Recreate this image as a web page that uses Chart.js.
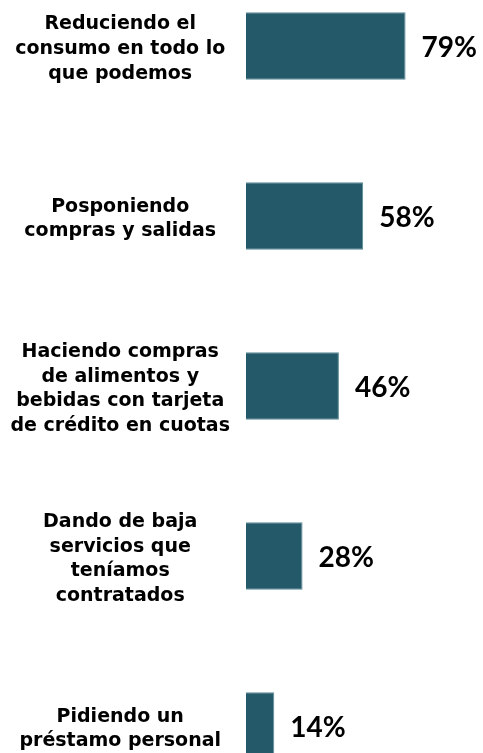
<!DOCTYPE html>
<html>
<head>
<meta charset="utf-8">
<script src="https://cdn.jsdelivr.net/npm/chart.js@4.4.1/dist/chart.umd.min.js"></script>
<style>
  html, body { margin: 0; padding: 0; background: #ffffff; overflow: hidden; }
  #wrap { position: absolute; left: 0; top: -39px; width: 483px; height: 850px; }
</style>
</head>
<body>
<div id="wrap"><canvas id="grafico"></canvas></div>
<script>
// Categorías (cada etiqueta en varias líneas)
const categorias = [
  ['Reduciendo el', 'consumo en todo lo', 'que podemos'],
  ['Posponiendo', 'compras y salidas'],
  ['Haciendo compras', 'de alimentos y', 'bebidas con tarjeta', 'de crédito en cuotas'],
  ['Dando de baja', 'servicios que', 'teníamos', 'contratados'],
  ['Pidiendo un', 'préstamo personal']
];
// Porcentajes de cada respuesta
const porcentajes = [79, 58, 46, 28, 14];

// Plugin para escribir el valor a la derecha de cada barra
const etiquetasValor = {
  id: 'etiquetasValor',
  afterDatasetsDraw(chart) {
    const ctx = chart.ctx;
    const meta = chart.getDatasetMeta(0);
    ctx.save();
    ctx.font = 'bold 28px Lato';
    ctx.fillStyle = '#000000';
    ctx.textAlign = 'left';
    ctx.textBaseline = 'middle';
    meta.data.forEach((barra, i) => {
      ctx.fillText(porcentajes[i] + '%', barra.x + 16, barra.y + 2);
    });
    ctx.restore();
  }
};

new Chart(document.getElementById('grafico').getContext('2d'), {
  type: 'bar',
  data: {
    labels: categorias,
    datasets: [{
      data: porcentajes,
      backgroundColor: '#235968',
      borderColor: '#5d8b97',
      borderWidth: 1,
      categoryPercentage: 1,
      barPercentage: 0.397
    }]
  },
  options: {
    indexAxis: 'y',
    responsive: true,
    maintainAspectRatio: false,
    animation: false,
    layout: { padding: { left: 0, right: 35, top: 0, bottom: 0 } },
    plugins: {
      legend: { display: false },
      tooltip: { enabled: false }
    },
    scales: {
      x: { display: false, min: 0, max: 100 },
      y: {
        grid: { display: false },
        border: { display: false },
        afterFit: (escala) => {
          escala.width = 246; // ancho fijo del eje
          escala.paddingTop = 0;
          escala.paddingBottom = 0;
        },
        ticks: {
          color: '#000000',
          autoSkip: false,
          crossAlign: 'center',
          padding: 8,
          labelOffset: 3,
          font: { family: 'DejaVu Sans', weight: 'bold', size: 19, lineHeight: 1.3 }
        }
      }
    }
  },
  plugins: [etiquetasValor]
});
</script>
</body>
</html>
